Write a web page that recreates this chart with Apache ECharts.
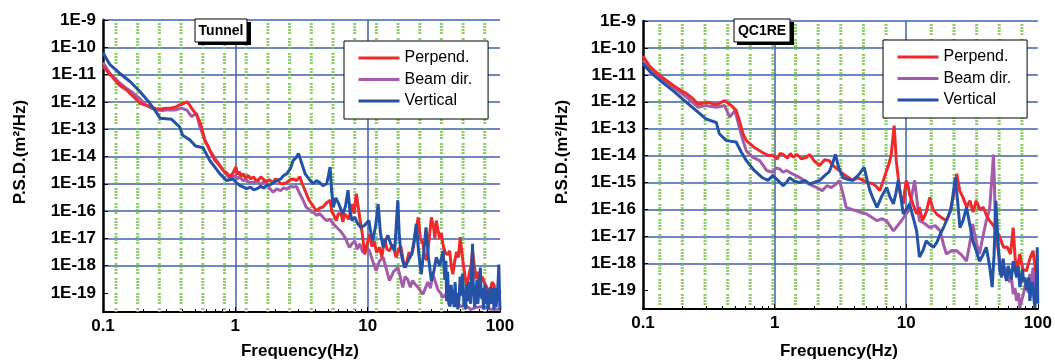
<!DOCTYPE html>
<html>
<head>
<meta charset="utf-8">
<script src="https://cdn.jsdelivr.net/npm/echarts@6/dist/echarts.min.js"></script>
<style>
html,body{margin:0;padding:0;background:#fff;}
#chart{width:1055px;height:361px;}
</style>
</head>
<body>
<div id="chart"></div>
<script>
// ---------- data (frequency Hz, PSD m^2/Hz) ----------
const seriesNames = ['Perpend.', 'Beam dir.', 'Vertical'];
const panelTitles = ['Tunnel', 'QC1RE'];
const xTickLabels = ['0.1', '1', '10', '100'];
const yTickValues = [1e-19, 1e-18, 1e-17, 1e-16, 1e-15, 1e-14, 1e-13, 1e-12, 1e-11, 1e-10, 1e-9];

const tunnelPerp = [[0.1,2.0e-11],[0.113,1.0e-11],[0.134,4.0e-12],[0.15,2.8e-12],[0.169,1.6e-12],[0.19,8.9e-13],[0.21,7.6e-13],[0.226,6.8e-13],[0.25,5.6e-13],[0.27,5.4e-13],[0.3,5.8e-13],[0.32,5.9e-13],[0.35,6.3e-13],[0.38,7.8e-13],[0.41,8.9e-13],[0.43,1.0e-12],[0.45,7.9e-13],[0.467,5.9e-13],[0.51,3.3e-13],[0.535,2.0e-13],[0.556,1.2e-13],[0.59,3.5e-14],[0.62,2.5e-14],[0.64,1.7e-14],[0.70,7.2e-15],[0.75,5.0e-15],[0.81,3.1e-15],[0.86,2.5e-15],[0.91,1.8e-15],[0.96,2.5e-15],[1.01,4.1e-15],[1.04,2.2e-15],[1.07,2.8e-15],[1.1,1.9e-15],[1.14,2.3e-15],[1.2,1.6e-15],[1.25,2.0e-15],[1.31,1.5e-15],[1.37,1.8e-15],[1.44,1.3e-15],[1.5,1.4e-15],[1.56,1.8e-15],[1.62,1.5e-15],[1.7,1.2e-15],[1.8,1.4e-15],[1.93,1.1e-15],[2.0,1.5e-15],[2.1,1.3e-15],[2.2,1.0e-15],[2.3,1.0e-15],[2.44,1.1e-15],[2.6,1.4e-15],[2.74,1.5e-15],[2.9,1.3e-15],[3.07,1.8e-15],[3.2,1.0e-15],[3.4,5.0e-16],[3.6,2.5e-16],[3.85,1.6e-16],[4.1,1.0e-16],[4.35,1.3e-16],[4.6,1.4e-16],[4.9,2.0e-16],[5.2,2.5e-16],[5.35,1.0e-16],[5.5,1.0e-16],[5.8,4.5e-17],[6.0,8.0e-17],[6.3,7.9e-17],[6.5,4.0e-17],[6.7,7.9e-17],[7.0,6.0e-17],[7.2,5.0e-17],[7.6,1.8e-16],[7.9,8.0e-17],[8.2,4.3e-16],[8.4,2.0e-16],[8.7,5.9e-17],[9.1,1.5e-17],[9.5,2.6e-18],[9.9,6.0e-18],[10.3,1.4e-17],[10.8,5.0e-18],[11.2,7.9e-18],[11.7,3.0e-18],[12.3,4.7e-18],[12.8,2.0e-18],[13.4,1.0e-17],[14.0,4.0e-18],[14.6,3.5e-18],[15.5,6.0e-18],[16.4,2.0e-18],[17.1,4.0e-18],[17.8,5.0e-18],[18.6,1.5e-18],[19.4,8.5e-19],[20.5,3.0e-18],[21.5,2.5e-18],[22.2,5.0e-18],[23.0,1.6e-17],[24.1,5.9e-17],[25.0,1.0e-17],[26.2,6.3e-18],[27.0,2.0e-18],[28.0,1.6e-18],[29.2,1.0e-17],[30.3,5.9e-17],[31.5,2.5e-17],[32.2,1.0e-17],[33.0,4.5e-17],[34.0,2.0e-17],[35.0,1.0e-17],[36.0,1.6e-17],[37.0,6.3e-18],[38.5,3.0e-18],[40.0,2.5e-18],[41.7,3.5e-18],[42.8,1.0e-18],[44.0,4.8e-19],[45.5,1.5e-18],[47.0,3.2e-18],[48.5,2.0e-18],[50.0,1.1e-17],[51.5,3.0e-18],[53.0,1.0e-18],[54.5,4.0e-19],[56.0,1.6e-19],[57.5,3.0e-19],[59.0,6.3e-19],[60.5,1.0e-18],[62.0,3.5e-18],[64.0,1.0e-18],[66.0,3.2e-19],[68.0,6.0e-19],[70.0,1.6e-19],[73.0,4.0e-19],[76.0,2.5e-19],[80.0,1.5e-19],[84.0,8.9e-20],[87.0,2.5e-19],[90.0,2.0e-19],[92.5,1.0e-19],[95.0,6.8e-20],[97.5,1.5e-19],[100,1.0e-19]];

const tunnelBeam = [[0.1,2.8e-11],[0.113,1.1e-11],[0.134,4.9e-12],[0.15,3.2e-12],[0.169,2.1e-12],[0.19,1.3e-12],[0.21,7.8e-13],[0.23,6.0e-13],[0.254,5.0e-13],[0.28,4.8e-13],[0.30,5.0e-13],[0.35,5.0e-13],[0.39,5.9e-13],[0.43,5.0e-13],[0.467,2.9e-13],[0.51,3.8e-13],[0.54,1.2e-13],[0.59,4.0e-14],[0.64,1.7e-14],[0.72,7.2e-15],[0.81,3.1e-15],[0.91,1.5e-15],[1.0,2.0e-15],[1.04,1.5e-15],[1.08,1.8e-15],[1.14,1.3e-15],[1.2,1.4e-15],[1.28,1.1e-15],[1.37,1.1e-15],[1.46,1.3e-15],[1.55,9.0e-16],[1.64,1.2e-15],[1.73,1.0e-15],[1.83,6.5e-16],[1.93,4.9e-16],[2.05,6.5e-16],[2.2,5.6e-16],[2.32,7.0e-16],[2.44,6.3e-16],[2.6,8.0e-16],[2.74,7.6e-16],[2.9,7.9e-16],[3.07,4.3e-16],[3.25,2.5e-16],[3.43,1.4e-16],[3.65,1.1e-16],[3.87,9.1e-17],[4.1,7.0e-17],[4.35,8.0e-17],[4.6,5.9e-17],[4.9,4.5e-17],[5.2,5.0e-17],[5.5,3.4e-17],[5.85,2.5e-17],[6.2,1.9e-17],[6.5,1.4e-17],[6.8,1.0e-17],[7.05,6.5e-18],[7.3,4.7e-18],[7.65,6.5e-18],[8.0,7.9e-18],[8.35,4.0e-18],[8.7,6.3e-18],[9.2,3.0e-18],[9.7,5.0e-18],[10.3,3.5e-18],[10.9,1.5e-18],[11.6,6.5e-19],[12.3,1.5e-18],[13.1,2.0e-18],[13.8,8.0e-19],[14.6,2.8e-19],[15.7,6.0e-19],[16.9,8.5e-19],[17.6,4.0e-19],[18.4,1.6e-19],[19.2,4.0e-19],[20.0,3.2e-19],[21.0,1.6e-19],[21.8,2.8e-19],[23.0,2.0e-19],[24.0,1.6e-19],[25.0,1.2e-19],[26.2,8.9e-20],[27.3,1.5e-19],[28.5,2.5e-19],[29.8,1.5e-19],[31.1,4.8e-19],[32.5,2.5e-19],[34.0,1.3e-19],[35.5,1.0e-19],[37.0,6.8e-20],[39.0,9.0e-20],[41.7,1.2e-19],[43.3,6.0e-20],[45.0,4.0e-20],[47.5,5.0e-20],[50.0,3.2e-20],[55.0,3.5e-20],[60.0,2.5e-20],[67.0,3.0e-20],[75.0,3.2e-20],[85.0,2.5e-20],[100,2.5e-20]];

const tunnelVert = [[0.1,6.3e-11],[0.113,2.3e-11],[0.134,1.1e-11],[0.16,5.6e-12],[0.19,2.4e-12],[0.226,8.9e-13],[0.25,4.5e-13],[0.27,2.5e-13],[0.30,2.4e-13],[0.33,2.3e-13],[0.38,1.2e-13],[0.40,6.0e-14],[0.454,4.0e-14],[0.50,2.4e-14],[0.57,2.1e-14],[0.64,7.2e-15],[0.766,2.3e-15],[0.86,1.3e-15],[0.96,1.5e-15],[1.02,1.1e-15],[1.08,8.7e-16],[1.15,7.5e-16],[1.22,6.6e-16],[1.3,7.5e-16],[1.38,6.0e-16],[1.46,6.6e-16],[1.55,8.0e-16],[1.64,7.0e-16],[1.73,8.7e-16],[1.85,9.5e-16],[1.95,1.1e-15],[2.05,1.3e-15],[2.2,1.5e-15],[2.32,2.0e-15],[2.44,2.3e-15],[2.6,3.5e-15],[2.74,7.2e-15],[2.88,9.0e-15],[3.0,1.3e-14],[3.1,8.0e-15],[3.2,5.0e-15],[3.37,2.3e-15],[3.6,1.5e-15],[3.87,1.0e-15],[4.1,1.3e-15],[4.34,1.1e-15],[4.6,8.5e-16],[4.9,1.0e-15],[5.05,2.0e-15],[5.2,4.1e-15],[5.35,5.0e-16],[5.5,1.4e-16],[5.75,3.0e-16],[6.0,2.0e-16],[6.25,1.2e-16],[6.5,7.9e-17],[6.8,1.5e-16],[7.1,5.8e-16],[7.35,1.0e-16],[7.6,4.5e-17],[8.0,6.0e-17],[8.4,3.5e-17],[8.9,2.5e-17],[9.5,3.0e-17],[10.2,4.5e-17],[10.6,1.5e-17],[10.95,8.3e-18],[11.5,3.0e-17],[12.0,1.8e-16],[12.5,1.5e-17],[13.1,4.7e-18],[13.6,8.0e-18],[14.2,1.3e-17],[15.0,6.0e-18],[16.0,3.5e-18],[16.9,2.5e-16],[17.3,1.5e-17],[17.8,3.2e-18],[18.4,1.5e-18],[19.0,8.5e-19],[20.2,1.5e-18],[21.5,2.6e-18],[22.4,8.0e-18],[23.3,3.4e-17],[24.3,3.0e-18],[25.4,4.8e-19],[26.5,3.0e-18],[27.6,2.5e-17],[28.8,2.0e-18],[30.3,2.8e-19],[31.6,6.0e-19],[33.0,2.0e-18],[35.0,1.0e-18],[37.2,3.5e-18],[38.3,3.0e-19],[39.0,1.5e-18],[39.5,5.0e-20],[40.2,6.0e-19],[41.0,4.0e-20],[42.0,3.2e-20],[42.8,2.0e-19],[43.5,4.0e-20],[44.3,1.3e-19],[45.0,3.0e-20],[45.8,2.5e-19],[46.5,3.0e-20],[47.3,1.0e-19],[48.0,2.5e-20],[49.0,6.0e-20],[50.0,4.0e-19],[51.0,8.0e-20],[52.0,5.0e-19],[53.0,1.0e-19],[53.5,3.0e-20],[54.3,1.0e-19],[55.0,2.5e-20],[56.0,2.0e-19],[57.0,5.0e-20],[58.0,2.5e-19],[59.0,6.0e-20],[60.0,4.0e-20],[61.0,5.0e-19],[62.0,6.3e-18],[62.8,2.0e-19],[63.5,1.0e-19],[64.3,3.0e-20],[65.0,3.2e-20],[66.0,1.2e-19],[67.0,3.0e-19],[68.0,4.0e-20],[69.0,4.0e-20],[70.0,2.0e-19],[71.0,8.5e-19],[72.0,1.0e-19],[73.0,6.0e-20],[74.0,1.5e-19],[75.0,2.5e-20],[76.0,8.0e-20],[77.0,2.0e-19],[78.5,4.0e-20],[80.0,1.3e-19],[81.0,2.5e-20],[82.0,3.0e-20],[83.5,1.2e-19],[85.0,1.6e-19],[86.0,4.0e-20],[87.0,5.0e-20],[88.5,1.5e-19],[90.0,2.5e-20],[91.0,8.0e-20],[92.0,1.5e-19],[93.5,3.0e-20],[95.0,3.0e-20],[96.5,2.0e-19],[98.0,1.1e-18],[99.0,1.0e-19],[100,2.5e-20]];

const qcPerp = [[0.1,5.0e-11],[0.113,2.0e-11],[0.134,9.5e-12],[0.15,6.3e-12],[0.169,4.1e-12],[0.19,2.8e-12],[0.214,2.0e-12],[0.24,1.3e-12],[0.262,8.3e-13],[0.29,8.9e-13],[0.32,9.5e-13],[0.35,7.9e-13],[0.372,8.3e-13],[0.417,1.1e-12],[0.47,7.2e-13],[0.51,4.8e-13],[0.54,2.0e-13],[0.575,6.5e-14],[0.61,3.6e-14],[0.70,2.0e-14],[0.81,1.3e-14],[0.9,1.0e-14],[0.97,1.0e-14],[1.05,7.5e-15],[1.1,1.2e-14],[1.16,1.1e-14],[1.25,8.0e-15],[1.32,1.2e-14],[1.38,8.7e-15],[1.48,1.1e-14],[1.6,7.5e-15],[1.74,8.7e-15],[1.85,1.1e-14],[2.0,6.3e-15],[2.2,4.3e-15],[2.4,7.0e-15],[2.6,6.5e-15],[2.75,4.5e-15],[2.9,3.6e-15],[3.1,2.8e-15],[3.3,2.1e-15],[3.6,1.6e-15],[3.9,1.2e-15],[4.3,1.5e-15],[4.7,1.2e-15],[5.1,1.0e-15],[5.6,8.9e-16],[5.95,7.0e-16],[6.3,5.0e-16],[6.7,1.2e-15],[7.1,2.8e-15],[7.4,5.0e-15],[7.7,1.1e-14],[7.9,4.0e-14],[8.1,1.3e-13],[8.25,3.0e-14],[8.4,6.5e-15],[8.7,1.5e-15],[9.0,3.7e-16],[9.5,1.6e-16],[9.8,6.0e-16],[10.0,1.2e-15],[10.3,8.0e-16],[10.6,3.7e-16],[11.3,1.5e-16],[12.0,6.8e-17],[12.6,1.2e-16],[13.3,3.8e-17],[14.2,8.0e-17],[15.1,2.8e-16],[16.0,1.0e-16],[17.0,6.8e-17],[18.5,5.0e-17],[20.2,3.8e-17],[21.5,8.0e-17],[22.8,3.0e-16],[24.2,2.1e-15],[25.5,5.0e-16],[27.0,2.8e-16],[28.8,1.2e-16],[30.5,2.1e-16],[32.2,8.0e-17],[34.0,2.1e-16],[36.2,1.0e-16],[38.5,1.2e-16],[40.7,6.0e-17],[43.0,3.8e-17],[46.0,2.5e-17],[49.0,1.6e-17],[52.0,8.0e-18],[55.0,3.9e-18],[58.5,4.0e-18],[62.0,2.2e-18],[65.0,2.1e-17],[67.0,2.0e-18],[69.0,4.0e-19],[71.0,1.0e-18],[73.0,2.2e-18],[77.0,6.0e-19],[82.0,5.2e-19],[87.0,1.5e-18],[92.0,2.9e-18],[96.0,6.0e-19],[100,3.2e-19]];

const qcBeam = [[0.1,3.5e-11],[0.113,1.6e-11],[0.134,8.3e-12],[0.169,3.5e-12],[0.214,1.5e-12],[0.262,6.3e-13],[0.30,7.2e-13],[0.36,6.3e-13],[0.417,7.2e-13],[0.456,2.7e-13],[0.50,4.8e-13],[0.54,1.1e-13],[0.575,3.6e-14],[0.61,1.5e-14],[0.68,8.7e-15],[0.77,6.5e-15],[0.87,2.8e-15],[0.97,2.4e-15],[1.03,3.5e-15],[1.09,3.2e-15],[1.16,2.4e-15],[1.23,2.8e-15],[1.34,2.2e-15],[1.46,1.8e-15],[1.6,1.4e-15],[1.74,1.0e-15],[1.9,8.0e-16],[2.08,6.6e-16],[2.3,5.0e-16],[2.5,7.6e-16],[2.7,6.5e-16],[2.95,8.9e-16],[3.1,1.2e-15],[3.3,4.0e-16],[3.5,1.2e-16],[3.85,1.0e-16],[4.2,8.9e-17],[4.6,7.5e-17],[5.0,6.8e-17],[5.5,5.0e-17],[6.0,3.8e-17],[6.5,4.5e-17],[7.1,3.8e-17],[7.5,2.5e-17],[8.0,1.6e-17],[8.6,2.5e-17],[9.2,3.8e-17],[9.8,6.0e-17],[10.4,8.9e-17],[11.0,3.0e-16],[11.6,1.2e-15],[12.1,2.0e-16],[12.6,3.8e-17],[13.8,3.0e-17],[15.1,2.1e-17],[16.6,2.5e-17],[18.1,1.6e-17],[19.2,5.0e-18],[20.2,2.2e-18],[22.2,3.0e-18],[24.2,2.9e-18],[26.4,2.0e-18],[28.7,1.2e-18],[30.3,5.0e-18],[32.0,2.9e-17],[34.0,6.0e-18],[36.0,2.2e-18],[38.3,1.0e-17],[40.6,3.8e-17],[43.0,1.0e-16],[45.0,2.0e-15],[46.0,1.1e-14],[46.8,1.0e-15],[47.5,2.9e-17],[49.5,4.0e-18],[51.5,1.2e-18],[54.5,8.0e-19],[58.0,5.2e-19],[61.0,2.0e-19],[63.0,3.0e-19],[65.0,7.1e-20],[67.0,1.2e-19],[69.0,4.0e-20],[71.0,8.0e-20],[73.0,2.2e-20],[75.0,4.0e-20],[77.0,6.0e-20],[79.5,1.2e-19],[82.0,2.2e-19],[84.5,8.0e-20],[87.0,4.0e-19],[89.5,2.0e-19],[92.0,6.9e-19],[94.0,2.0e-19],[96.0,1.0e-19],[98.0,5.0e-20],[100,3.2e-20]];

const qcVert = [[0.1,2.6e-11],[0.113,1.3e-11],[0.134,6.3e-12],[0.169,2.6e-12],[0.214,9.5e-13],[0.262,4.1e-13],[0.30,2.3e-13],[0.36,1.7e-13],[0.38,6.5e-14],[0.43,3.6e-14],[0.51,3.2e-14],[0.56,1.3e-14],[0.61,6.5e-15],[0.70,2.8e-15],[0.81,1.5e-15],[0.89,1.2e-15],[0.97,1.8e-15],[1.06,1.2e-15],[1.16,7.6e-16],[1.23,1.0e-15],[1.3,1.5e-15],[1.42,1.1e-15],[1.55,1.0e-15],[1.7,1.2e-15],[1.84,8.9e-16],[2.0,1.0e-15],[2.2,1.2e-15],[2.4,1.8e-15],[2.6,2.5e-15],[2.75,5.0e-15],[2.9,1.1e-14],[3.05,4.0e-15],[3.3,1.5e-15],[3.6,1.3e-15],[3.9,1.2e-15],[4.3,1.8e-15],[4.8,3.6e-15],[5.05,1.2e-15],[5.3,5.0e-16],[5.6,2.5e-16],[6.0,1.2e-16],[6.5,3.0e-16],[7.1,6.6e-16],[7.5,3.0e-16],[8.0,1.6e-16],[8.35,4.0e-16],[8.7,1.2e-15],[9.1,3.0e-16],[9.5,6.8e-17],[10.0,1.0e-16],[10.6,1.6e-16],[11.3,5.0e-17],[12.0,1.6e-17],[12.6,1.7e-18],[13.4,3.0e-18],[14.2,6.9e-18],[15.1,5.0e-18],[16.1,3.9e-18],[17.1,6.0e-18],[18.1,1.2e-17],[19.1,2.0e-17],[20.2,3.8e-17],[21.9,1.0e-16],[23.6,1.5e-15],[24.6,2.0e-16],[25.6,2.1e-17],[27.1,4.0e-17],[28.7,1.2e-16],[30.3,3.0e-17],[32.0,6.9e-18],[34.0,3.0e-18],[36.0,1.2e-18],[38.2,2.0e-18],[40.6,3.9e-18],[43.0,8.0e-19],[45.0,1.3e-19],[46.5,2.0e-18],[48.0,2.1e-16],[49.5,1.0e-17],[51.5,5.2e-19],[53.0,3.0e-19],[54.5,1.5e-18],[56.0,4.0e-19],[58.0,2.2e-19],[59.5,8.0e-19],[61.0,5.0e-19],[63.0,2.5e-19],[65.0,1.2e-18],[67.0,6.0e-19],[69.0,3.0e-19],[71.0,8.0e-19],[73.0,1.3e-19],[75.0,3.0e-19],[76.5,6.0e-19],[78.0,2.0e-19],[80.0,3.0e-19],[82.0,1.0e-19],[84.0,1.0e-19],[85.5,3.0e-19],[87.0,4.0e-20],[89.0,1.2e-19],[91.0,2.0e-19],[93.0,6.0e-20],[95.0,2.2e-20],[97.0,1.0e-19],[99.0,3.9e-18],[100,3.2e-20]];

// green dotted guide lines (frequency positions) for each panel
const tunnelGuideX = [0.1253,0.1828,0.2667,0.389,0.5675,0.828,1.208,1.762,2.57,3.75,5.47,7.98,11.64,16.98,24.77,36.1,52.6,76.7];
const qcGuideX = [0.134,0.199,0.296,0.44,0.653,0.97,1.442,2.143,3.184,4.73,7.03,15.52,23.07,34.28,50.9,75.7];

const Y_MIN = 2e-20, Y_MAX = 1e-9;
const X_MIN = 0.1, X_MAX = 100;

// ---------- chart ----------
const FONT = '"Liberation Sans", Arial, sans-serif';
const COLORS = {'Perpend.': '#ee2a2a', 'Beam dir.': '#a45ba9', 'Vertical': '#2352a6'};
const GRID_BLUE = '#3c60b0';

const chart = echarts.init(document.getElementById('chart'), null, {renderer: 'canvas'});

function yLabel(v) {
  const e = Math.round(Math.log10(v));
  if (Math.abs(v / Math.pow(10, e) - 1) > 1e-6) return '';
  return '1E' + e;
}
function xLabel(v) {
  const s = String(+Number(v).toPrecision(6));
  return xTickLabels.indexOf(s) >= 0 ? s : '';
}

function makeX(idx) {
  return {
    type: 'log', logBase: 10, gridIndex: idx, min: X_MIN, max: X_MAX,
    axisLine: {show: true, onZero: false, lineStyle: {color: '#000', width: 2}},
    axisTick: {show: true, inside: true, length: 5, lineStyle: {color: '#000', width: 1}},
    minorTick: {show: true, splitNumber: 9, length: 3, lineStyle: {color: '#000', width: 1}},
    axisLabel: {color: '#000', fontFamily: FONT, fontWeight: 'bold', fontSize: 17, margin: 6, formatter: xLabel},
    splitLine: {show: true, showMinLine: false, showMaxLine: false, lineStyle: {color: GRID_BLUE, width: 1.5}},
    minorSplitLine: {show: false}
  };
}
function makeY(idx) {
  return {
    type: 'log', logBase: 10, gridIndex: idx, min: Y_MIN, max: Y_MAX,
    axisLine: {show: true, onZero: false, lineStyle: {color: '#000', width: 2.5}},
    axisTick: {show: true, inside: true, length: 5, customValues: yTickValues, lineStyle: {color: '#000', width: 1}},
    minorTick: {show: false},
    axisLabel: {color: '#000', fontFamily: FONT, fontWeight: 'bold', fontSize: 17, margin: 7, customValues: yTickValues, formatter: yLabel},
    splitLine: {show: true, showMinLine: false, lineStyle: {color: GRID_BLUE, width: 1.5}}
  };
}

function guideSeries(idx, xs) {
  return {
    type: 'custom', xAxisIndex: idx, yAxisIndex: idx, silent: true, z: 1,
    encode: {x: 0, y: 1},
    data: xs.map(x => [x, Y_MAX]),
    renderItem: function (params, api) {
      const x = api.value(0);
      const p1 = api.coord([x, Y_MAX]);
      const p2 = api.coord([x, Y_MIN]);
      return {type: 'line', shape: {x1: p1[0], y1: p1[1] + 3, x2: p2[0], y2: p2[1]},
              style: {stroke: '#72c244', lineWidth: 3, lineDash: [2, 1, 2, 1, 2, 1, 2, 4], opacity: 0.8}};
    }
  };
}
function lineSeries(idx, name, data, z) {
  return {
    type: 'line', name: name, xAxisIndex: idx, yAxisIndex: idx, data: data,
    symbol: 'none', showSymbol: false, z: z, clip: true,
    lineStyle: {color: COLORS[name], width: 3}, itemStyle: {color: COLORS[name]},
    emphasis: {disabled: true}
  };
}
function legendFor(left, top) {
  return {
    orient: 'vertical', left: left, top: top, data: seriesNames,
    backgroundColor: '#fff', borderColor: '#000', borderWidth: 1,
    padding: [9, 16, 10, 13], itemWidth: 41, itemHeight: 14, itemGap: 5.5,
    itemStyle: {opacity: 0},
    lineStyle: {width: 3},
    textStyle: {fontFamily: FONT, fontSize: 16, color: '#000'},
    selectedMode: false
  };
}

const option = {
  animation: false,
  backgroundColor: '#fff',
  grid: [
    {left: 103, top: 20, width: 397, height: 292},
    {left: 643, top: 21, width: 395, height: 288}
  ],
  xAxis: [makeX(0), makeX(1)],
  yAxis: [makeY(0), makeY(1)],
  legend: [legendFor(344, 41), legendFor(883, 40)],
  series: [
    guideSeries(0, tunnelGuideX),
    guideSeries(1, qcGuideX),
    lineSeries(0, 'Beam dir.', tunnelBeam, 3),
    lineSeries(0, 'Perpend.', tunnelPerp, 4),
    lineSeries(0, 'Vertical', tunnelVert, 5),
    lineSeries(1, 'Beam dir.', qcBeam, 3),
    lineSeries(1, 'Perpend.', qcPerp, 4),
    lineSeries(1, 'Vertical', qcVert, 5)
  ],
  graphic: [
    {type: 'rect', z: 100, shape: {x: 198, y: 22, width: 53, height: 23}, style: {fill: '#000'}},
    {type: 'rect', z: 101, shape: {x: 195, y: 19, width: 52, height: 23}, style: {fill: '#fff', stroke: '#000', lineWidth: 1}},
    {type: 'text', z: 102, x: 221, y: 31, style: {text: panelTitles[0], font: 'bold 14px ' + FONT, fill: '#000', align: 'center', verticalAlign: 'middle'}},
    {type: 'rect', z: 100, shape: {x: 737, y: 22, width: 57, height: 23}, style: {fill: '#000'}},
    {type: 'rect', z: 101, shape: {x: 734, y: 19, width: 56, height: 23}, style: {fill: '#fff', stroke: '#000', lineWidth: 1}},
    {type: 'text', z: 102, x: 762, y: 31, style: {text: panelTitles[1], font: 'bold 14px ' + FONT, fill: '#000', align: 'center', verticalAlign: 'middle'}},
    {type: 'text', x: 20, y: 152, rotation: Math.PI / 2, style: {text: 'P.S.D.(m²/Hz)', font: 'bold 17px ' + FONT, fill: '#000', align: 'center', verticalAlign: 'middle'}},
    {type: 'text', x: 562, y: 152, rotation: Math.PI / 2, style: {text: 'P.S.D.(m²/Hz)', font: 'bold 17px ' + FONT, fill: '#000', align: 'center', verticalAlign: 'middle'}},
    {type: 'text', x: 300, y: 351, style: {text: 'Frequency(Hz)', font: 'bold 17px ' + FONT, fill: '#000', align: 'center', verticalAlign: 'middle'}},
    {type: 'text', x: 839, y: 351, style: {text: 'Frequency(Hz)', font: 'bold 17px ' + FONT, fill: '#000', align: 'center', verticalAlign: 'middle'}}
  ]
};
chart.setOption(option);
</script>
</body>
</html>
